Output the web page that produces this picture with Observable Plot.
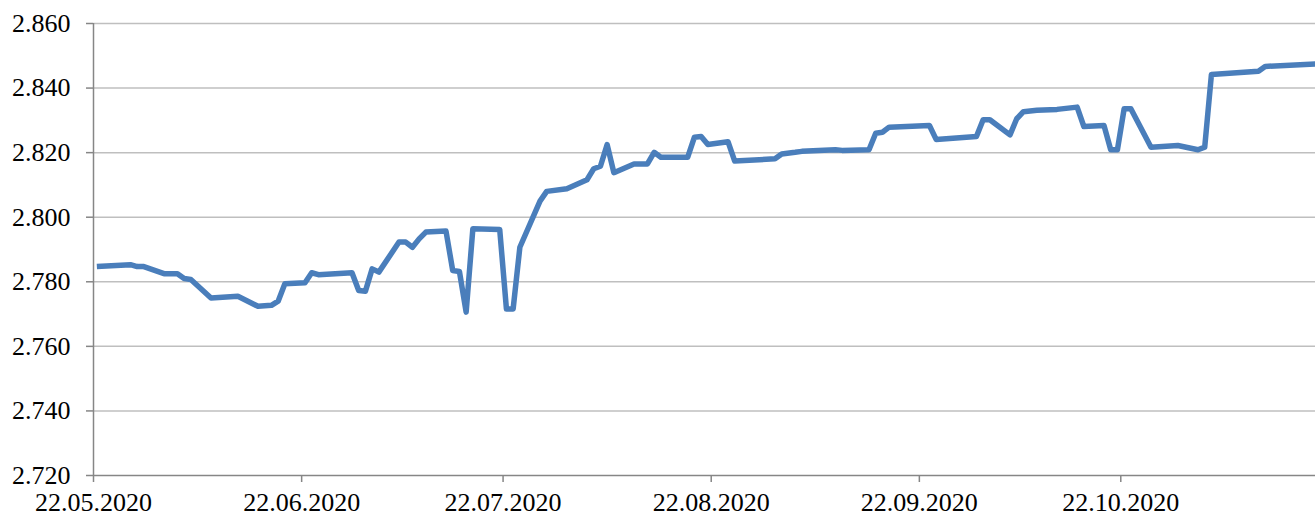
<!DOCTYPE html>
<html>
<head>
<meta charset="utf-8">
<script src="https://cdn.jsdelivr.net/npm/d3@7"></script>
<script src="https://cdn.jsdelivr.net/npm/@observablehq/plot@0.6"></script>
<style>
  html, body { margin: 0; padding: 0; background: #fff; }
  #chart svg { display: block; overflow: visible; }
</style>
</head>
<body>
<div id="chart"></div>
<script>
const dates = [
  "22.05.2020","27.05.2020","28.05.2020","29.05.2020","01.06.2020","03.06.2020","04.06.2020","05.06.2020",
  "08.06.2020","12.06.2020","15.06.2020","17.06.2020","18.06.2020","19.06.2020","22.06.2020","23.06.2020",
  "24.06.2020","29.06.2020","30.06.2020","01.07.2020","02.07.2020","03.07.2020","06.07.2020","07.07.2020",
  "08.07.2020","09.07.2020","10.07.2020","13.07.2020","14.07.2020","15.07.2020","16.07.2020","17.07.2020",
  "21.07.2020","22.07.2020","23.07.2020","24.07.2020","27.07.2020","28.07.2020","31.07.2020","03.08.2020",
  "04.08.2020","05.08.2020","06.08.2020","07.08.2020","10.08.2020","12.08.2020","13.08.2020","14.08.2020",
  "18.08.2020","19.08.2020","20.08.2020","21.08.2020","24.08.2020","25.08.2020","31.08.2020","01.09.2020",
  "03.09.2020","04.09.2020","09.09.2020","10.09.2020","14.09.2020","15.09.2020","16.09.2020","17.09.2020",
  "23.09.2020","24.09.2020","30.09.2020","01.10.2020","02.10.2020","05.10.2020","06.10.2020","07.10.2020",
  "09.10.2020","12.10.2020","15.10.2020","16.10.2020","19.10.2020","20.10.2020","21.10.2020","22.10.2020",
  "23.10.2020","26.10.2020","30.10.2020","02.11.2020","03.11.2020","04.11.2020","11.11.2020","12.11.2020",
  "20.11.2020"
];
const values = [
  2.7847,2.7853,2.7847,2.7847,2.7825,2.7825,2.7810,2.7807,
  2.7750,2.7755,2.7724,2.7727,2.7740,2.7794,2.7797,2.7828,
  2.7822,2.7828,2.7773,2.7771,2.7840,2.7830,2.7923,2.7923,
  2.7907,2.7933,2.7954,2.7957,2.7835,2.7832,2.7706,2.7964,
  2.7962,2.7716,2.7716,2.7907,2.8050,2.8080,2.8088,2.8116,
  2.8150,2.8158,2.8225,2.8138,2.8165,2.8165,2.8201,2.8186,
  2.8186,2.8248,2.8250,2.8225,2.8234,2.8174,2.8181,2.8196,
  2.8201,2.8204,2.8209,2.8207,2.8209,2.8260,2.8263,2.8279,
  2.8284,2.8241,2.8250,2.8302,2.8302,2.8255,2.8305,2.8327,
  2.8331,2.8334,2.8341,2.8281,2.8284,2.8209,2.8209,2.8336,
  2.8336,2.8217,2.8222,2.8209,2.8217,2.8442,2.8452,2.8467,
  2.8475
];
const xTickLabels = ["22.05.2020","22.06.2020","22.07.2020","22.08.2020","22.09.2020","22.10.2020"];
const yTicks = [2.72,2.74,2.76,2.78,2.80,2.82,2.84,2.86];

const parse = d3.utcParse("%d.%m.%Y");
const fmt = d3.utcFormat("%d.%m.%Y");
const HALF_DAY = 12 * 3600 * 1000;
// each day's value sits in the middle of its day slot (date axis, "between tick marks")
const data = dates.map((d, i) => ({date: new Date(parse(d).getTime() + HALF_DAY), value: values[i]}));
const xTicks = xTickLabels.map(parse);
const xDomain = [parse(dates[0]), parse(dates[dates.length - 1])];

const axisColor = "#868686";
const gridColor = "#bfbfbf";

const chart = Plot.plot({
  width: 1315,
  height: 517,
  marginLeft: 93,
  marginRight: 0,
  marginTop: 23,
  marginBottom: 42,
  style: {fontFamily: "'Liberation Serif', 'Times New Roman', serif", fontSize: "26px", color: "#000", background: "#fff", overflow: "visible"},
  x: {type: "utc", domain: xDomain},
  y: {domain: [2.72, 2.86]},
  marks: [
    Plot.gridY(yTicks.slice(1), {stroke: gridColor, strokeOpacity: 1, strokeWidth: 1.5}),
    Plot.ruleY([2.72], {stroke: axisColor, strokeWidth: 1.5}),
    Plot.ruleX([xDomain[0]], {stroke: axisColor, strokeWidth: 1.5}),
    Plot.axisY({ticks: yTicks, tickFormat: d => d.toFixed(3), tickSize: 7, tickPadding: 16, stroke: axisColor, strokeWidth: 1.5, label: null, fill: "#000", fontSize: 26}),
    Plot.axisX({ticks: xTicks, tickFormat: fmt, tickSize: 7, tickPadding: 10, stroke: axisColor, strokeWidth: 1.5, label: null, fill: "#000", fontSize: 26}),
    Plot.line(data, {x: "date", y: "value", stroke: "#4a7ebb", strokeWidth: 5.5, strokeLinejoin: "round", strokeLinecap: "butt", clip: true})
  ]
});
document.getElementById("chart").appendChild(chart);
</script>
</body>
</html>
